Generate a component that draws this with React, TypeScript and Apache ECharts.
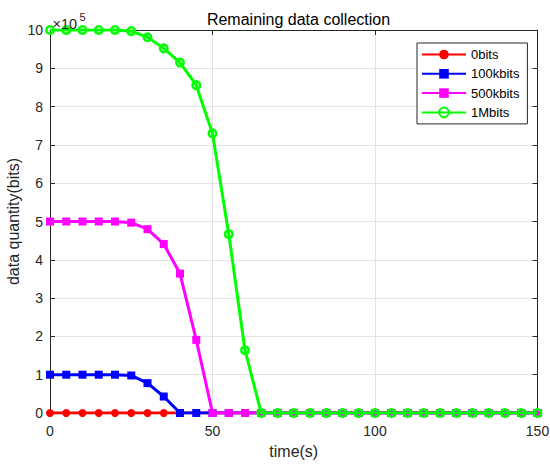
import React, { useEffect, useRef } from "react";
import * as echarts from "echarts";

const times = [0, 5, 10, 15, 20, 25, 30, 35, 40, 45, 50, 55, 60, 65, 70, 75, 80, 85, 90, 95, 100, 105, 110, 115, 120, 125, 130, 135, 140, 145, 150];

const seriesNames = ["0bits", "100kbits", "500kbits", "1Mbits"];

const bits0 = [0, 0, 0, 0, 0, 0, 0, 0, 0, 0, 0, 0, 0, 0, 0, 0, 0, 0, 0, 0, 0, 0, 0, 0, 0, 0, 0, 0, 0, 0, 0];
const bits100k = [100000, 100000, 100000, 100000, 100000, 98000, 78000, 43000, 0, 0, 0, 0, 0, 0, 0, 0, 0, 0, 0, 0, 0, 0, 0, 0, 0, 0, 0, 0, 0, 0, 0];
const bits500k = [500000, 500000, 500000, 500000, 500000, 497000, 480000, 441000, 364000, 191000, 0, 0, 0, 0, 0, 0, 0, 0, 0, 0, 0, 0, 0, 0, 0, 0, 0, 0, 0, 0, 0];
const bits1M = [1000000, 1000000, 1000000, 1000000, 1000000, 997000, 981000, 952000, 915000, 856000, 730000, 467000, 164000, 0, 0, 0, 0, 0, 0, 0, 0, 0, 0, 0, 0, 0, 0, 0, 0, 0, 0];

const xTicks = { min: 0, max: 150, interval: 50 };
const yTicks = { min: 0, max: 1000000, interval: 100000 };

const FONT = "Liberation Sans, Arial, Helvetica, sans-serif";
const AX = "#262626";
const GRIDC = "#e3e3e3";

function pairs(vals: number[]) {
  return times.map((t, i) => [t, vals[i]]);
}

export default function App() {
  const ref = useRef<HTMLDivElement>(null);
  useEffect(() => {
    if (!ref.current) return;
    const chart = echarts.init(ref.current, undefined, { renderer: "svg" });
    const axisBase = {
      axisLine: { show: true, onZero: false, lineStyle: { color: AX, width: 1 } },
      axisTick: { show: true, inside: true, length: 5, lineStyle: { color: AX, width: 1 } },
    };
    chart.setOption({
      animation: false,
      backgroundColor: "#ffffff",
      title: {
        text: "Remaining data collection",
        left: 293.5,
        textAlign: "center",
        top: 6,
        textStyle: { fontFamily: FONT, fontSize: 16, fontWeight: "normal", color: "#000" },
      },
      legend: {
        orient: "vertical",
        left: 417,
        top: 43,
        padding: [5, 8, 5, 4],
        itemWidth: 44,
        itemHeight: 12,
        itemGap: 6.3,
        backgroundColor: "#ffffff",
        borderColor: AX,
        borderWidth: 1,
        borderRadius: 0,
        textStyle: { fontFamily: FONT, fontSize: 13, color: "#000" },
        data: seriesNames,
      },
      grid: { left: 50, right: 12.5, top: 30, bottom: 53, containLabel: false, outerBoundsMode: "none" },
      xAxis: [
        {
          type: "value",
          position: "bottom",
          ...xTicks,
          ...axisBase,
          axisLabel: { color: AX, fontFamily: FONT, fontSize: 14, margin: 11 },
          splitLine: { show: true, lineStyle: { color: GRIDC, width: 1 } },
          name: "time(s)",
          nameLocation: "middle",
          nameGap: 30,
          nameMoveOverlap: false,
          nameTextStyle: { fontFamily: FONT, fontSize: 16, color: AX },
        },
        {
          type: "value",
          position: "top",
          ...xTicks,
          ...axisBase,
          axisLabel: { show: false },
          splitLine: { show: false },
        },
      ],
      yAxis: [
        {
          type: "value",
          position: "left",
          ...yTicks,
          ...axisBase,
          axisLabel: {
            color: AX,
            fontFamily: FONT,
            fontSize: 14,
            margin: 7,
            formatter: (v: number) => String(Math.round(v / 100000)),
          },
          splitLine: { show: true, lineStyle: { color: GRIDC, width: 1 } },
          name: "data quantity(bits)",
          nameLocation: "middle",
          nameGap: 29,
          nameMoveOverlap: false,
          nameTextStyle: { fontFamily: FONT, fontSize: 16, color: AX },
        },
        {
          type: "value",
          position: "right",
          ...yTicks,
          ...axisBase,
          axisLabel: { show: false },
          splitLine: { show: false },
        },
      ],
      graphic: [
        {
          type: "text",
          z: 100,
          style: {
            text: "×10",
            x: 52.5,
            y: 24,
            verticalAlign: "middle",
            align: "left",
            fontFamily: FONT,
            fontSize: 14.5,
            fill: AX,
          },
        },
        {
          type: "text",
          z: 100,
          style: {
            text: "5",
            x: 79.5,
            y: 17,
            verticalAlign: "middle",
            align: "left",
            fontFamily: FONT,
            fontSize: 11,
            fill: AX,
          },
        },
      ],
      series: [
        {
          name: seriesNames[0],
          type: "line",
          data: pairs(bits0),
          symbol: "circle",
          symbolSize: 8,
          lineStyle: { color: "#ff0000", width: 3 },
          itemStyle: { color: "#ff0000" },
          z: 2,
        },
        {
          name: seriesNames[1],
          type: "line",
          data: pairs(bits100k),
          symbol: "rect",
          symbolSize: 8,
          lineStyle: { color: "#0000ff", width: 3 },
          itemStyle: { color: "#0000ff" },
          z: 3,
        },
        {
          name: seriesNames[2],
          type: "line",
          data: pairs(bits500k),
          symbol: "rect",
          symbolSize: 8,
          lineStyle: { color: "#ff00ff", width: 3 },
          itemStyle: { color: "#ff00ff" },
          z: 4,
        },
        {
          name: seriesNames[3],
          type: "line",
          data: pairs(bits1M),
          symbol: "circle",
          symbolSize: 7.5,
          lineStyle: { color: "#00ff00", width: 3 },
          itemStyle: { color: "rgba(0,0,0,0)", borderColor: "#00ff00", borderWidth: 2.5 },
          z: 5,
        },
      ],
    });
    return () => chart.dispose();
  }, []);
  return <div ref={ref} style={{ position: "fixed", left: 0, top: 0, width: 550, height: 466 }} />;
}
